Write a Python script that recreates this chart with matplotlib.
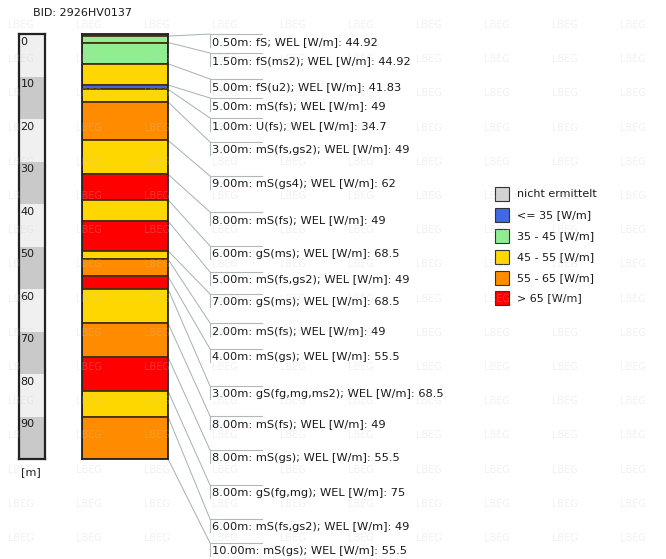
import matplotlib.pyplot as plt
from matplotlib.patches import Rectangle, ConnectionPatch

# layer data (thickness in m, soil, WEL in W/m)
thickness = [0.5, 1.5, 5, 5, 1, 3, 9, 8, 6, 5, 7, 2, 4, 3, 8, 8, 8, 6, 10]
soil = ['fS', 'fS(ms2)', 'fS(u2)', 'mS(fs)', 'U(fs)', 'mS(fs,gs2)', 'mS(gs4)',
        'mS(fs)', 'gS(ms)', 'mS(fs,gs2)', 'gS(ms)', 'mS(fs)', 'mS(gs)',
        'gS(fg,mg,ms2)', 'mS(fs)', 'mS(gs)', 'gS(fg,mg)', 'mS(fs,gs2)', 'mS(gs)']
wel = ['44.92', '44.92', '41.83', '49', '34.7', '49', '62', '49', '68.5', '49',
       '68.5', '49', '55.5', '68.5', '49', '55.5', '75', '49', '55.5']

legend_labels = ['nicht ermittelt', '<= 35 [W/m]', '35 - 45 [W/m]',
                 '45 - 55 [W/m]', '55 - 65 [W/m]', '> 65 [W/m]']
legend_colors = ['#d3d3d3', '#4169e1', '#90ee90', '#ffd700', '#ff8c00', '#ff0000']
scale_ticks = [0, 10, 20, 30, 40, 50, 60, 70, 80, 90]
borehole = 'BID: 2926HV0137'

# label text centres in pixels (layout only)
label_y = [42, 61, 87, 106, 126, 150, 184, 220, 254, 280, 302, 331, 357,
           394, 424, 458, 493, 527, 551]

W, H = 666, 559
fig = plt.figure(figsize=(W / 100, H / 100), dpi=100)
fig.patch.set_facecolor('white')


def px_axes(x0, y0, x1, y1, z=1):
    return fig.add_axes([x0 / W, 1 - y1 / H, (x1 - x0) / W, (y1 - y0) / H], zorder=z)


def wel_color(v):
    v = float(v)
    if v <= 35:
        return legend_colors[1]
    if v <= 45:
        return legend_colors[2]
    if v <= 55:
        return legend_colors[3]
    if v <= 65:
        return legend_colors[4]
    return legend_colors[5]


bg = px_axes(0, 0, W, H, z=0)
bg.set_xlim(0, W)
bg.set_ylim(H, 0)
bg.axis('off')

tops = [sum(thickness[:i]) for i in range(len(thickness))]
bottoms = [t + d for t, d in zip(tops, thickness)]
total = bottoms[-1]

# depth scale
sc = px_axes(19, 34, 45, 459)
sc.set_xlim(0, 1)
sc.set_ylim(total, 0)
for i, t in enumerate(scale_ticks):
    sc.bar(0.5, 10, bottom=t, width=1, color='#f0f0f0' if i % 2 == 0 else '#c9c9c9',
           linewidth=0)
    sc.text(0.06, t + 0.6, str(t), va='top', ha='left', fontsize=8, color='#1a1a1a')
sc.set_xticks([])
sc.set_yticks([])
for s in sc.spines.values():
    s.set_linewidth(1.6)
    s.set_color('#222222')

# layer column
col = px_axes(82, 34, 168, 459)
col.set_xlim(0, 1)
col.set_ylim(total, 0)
col.bar(0.5, thickness, bottom=tops, width=1,
        color=[wel_color(v) for v in wel], edgecolor='#4a3010', linewidth=1.3)
col.set_xticks([])
col.set_yticks([])
for s in col.spines.values():
    s.set_linewidth(1.3)
    s.set_color('#222222')

# connectors and labels
for d, y, th, so, v in zip(bottoms, label_y, thickness, soil, wel):
    ly = y - 8
    con = ConnectionPatch(xyA=(1, d), coordsA=col.transData, xyB=(210, ly),
                          coordsB=bg.transData, color='#a3b0b8', linewidth=0.7,
                          zorder=0)
    fig.add_artist(con)
    bg.plot([210, 262], [ly, ly], color='#b0b8bd', linewidth=0.8)
    bg.plot([210, 210], [ly, y + 5], color='#b0b8bd', linewidth=0.8)
    bg.text(212, y, f'{th:.2f}m: {so}; WEL [W/m]: {v}', va='center', ha='left',
            fontsize=8.2, color='#1a1a1a')

bg.text(33, 13, borehole, va='center', ha='left', fontsize=8, color='#1a1a1a')
bg.text(21, 472, '[m]', va='center', ha='left', fontsize=8, color='#1a1a1a')

# legend
leg_y = [194, 215, 236, 257, 278, 298]
for lab, c, y in zip(legend_labels, legend_colors, leg_y):
    bg.add_patch(Rectangle((495, y - 7), 14, 14, facecolor=c, edgecolor='#333333',
                           linewidth=0.8))
    bg.text(517, y, lab, va='center', ha='left', fontsize=8, color='#1a1a1a')

# watermark
wm = px_axes(0, 0, W, H, z=5)
wm.set_xlim(0, W)
wm.set_ylim(H, 0)
wm.axis('off')
wm.patch.set_alpha(0)
for r in range(16):
    for c in range(10):
        wm.text(21 + 68 * c, 25 + 34.2 * r, 'LBEG', ha='center', va='center',
                fontsize=7, color='#c8c8c8', alpha=0.25)

fig.savefig('out.png', dpi=100, facecolor='white')
